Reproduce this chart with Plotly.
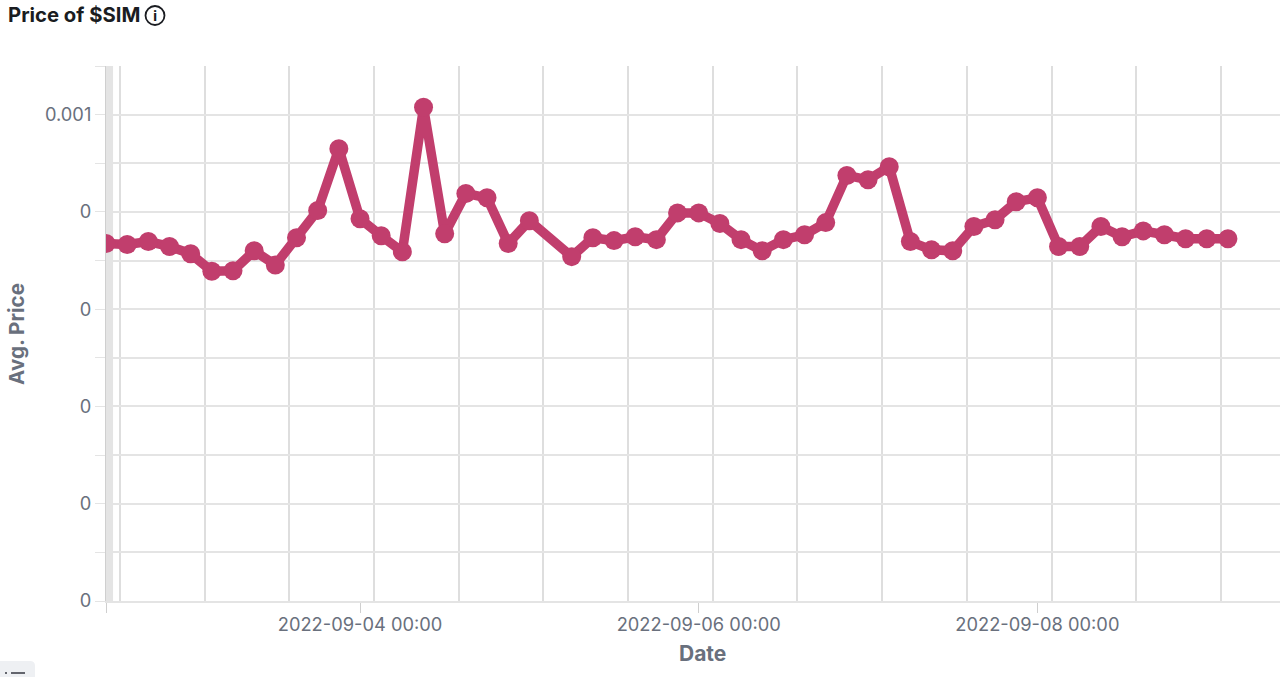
import plotly.graph_objects as go

dates = ["2022-09-02 12:00","2022-09-02 15:00","2022-09-02 18:00","2022-09-02 21:00",
"2022-09-03 00:00","2022-09-03 03:00","2022-09-03 06:00","2022-09-03 09:00","2022-09-03 12:00","2022-09-03 15:00","2022-09-03 18:00","2022-09-03 21:00",
"2022-09-04 00:00","2022-09-04 03:00","2022-09-04 06:00","2022-09-04 09:00","2022-09-04 12:00","2022-09-04 15:00","2022-09-04 18:00","2022-09-04 21:00",
"2022-09-05 00:00","2022-09-05 06:00","2022-09-05 09:00","2022-09-05 12:00","2022-09-05 15:00","2022-09-05 18:00","2022-09-05 21:00",
"2022-09-06 00:00","2022-09-06 03:00","2022-09-06 06:00","2022-09-06 09:00","2022-09-06 12:00","2022-09-06 15:00","2022-09-06 18:00","2022-09-06 21:00",
"2022-09-07 00:00","2022-09-07 03:00","2022-09-07 06:00","2022-09-07 09:00","2022-09-07 12:00","2022-09-07 15:00","2022-09-07 18:00","2022-09-07 21:00",
"2022-09-08 00:00","2022-09-08 03:00","2022-09-08 06:00","2022-09-08 09:00","2022-09-08 12:00","2022-09-08 15:00","2022-09-08 18:00","2022-09-08 21:00",
"2022-09-09 00:00","2022-09-09 03:00"]
prices = [0.000735,0.000733,0.000739,0.000729,0.000714,0.000678,0.000679,0.000720,0.000691,0.000747,0.000803,0.000930,
0.000786,0.000751,0.000718,0.001015,0.000755,0.000838,0.000829,0.000735,0.000782,
0.000708,0.000747,0.000741,0.000749,0.000743,0.000798,0.000798,0.000776,0.000743,0.000720,0.000743,0.000753,0.000778,
0.000875,0.000866,0.000893,0.000739,0.000722,0.000720,0.000770,0.000784,0.000821,0.000829,0.000729,0.000729,
0.000770,0.000749,0.000761,0.000753,0.000745,0.000745,0.000745]

x_ticks = ["2022-09-02 12:00","2022-09-04 00:00","2022-09-06 00:00","2022-09-08 00:00"]
x_labels = ["","2022-09-04 00:00","2022-09-06 00:00","2022-09-08 00:00"]
y_ticks = [0,0.0002,0.0004,0.0006,0.0008,0.001]
y_labels = ["0","0","0","0","0","0.001"]
x_range = ["2022-09-02 12:00","2022-09-09 10:23"]
y_range = [0,0.0011]
band = ["2022-09-02 12:00","2022-09-02 13:00"]

LINE = "#C13E6D"
GRID = "#E4E4E4"
VGRID = "#DEDEDE"
TXT = "#69707D"
FONT = "Inter"

fig = go.Figure()
fig.add_shape(type="rect", xref="x", yref="paper", x0=band[0], x1=band[1], y0=0, y1=1,
              fillcolor="#E4E4E4", line_width=0, layer="below")
fig.add_trace(go.Scatter(x=dates, y=prices, mode="lines+markers",
                         line=dict(color=LINE, width=9.5),
                         marker=dict(color=LINE, size=19), hoverinfo="x+y"))

fig.update_layout(
    width=1280, height=677, margin=dict(l=106, r=0, t=66, b=76),
    paper_bgcolor="white", plot_bgcolor="white", showlegend=False,
    font=dict(family=FONT, color=TXT, size=16),
    xaxis=dict(type="date", range=x_range, tickmode="array", tickvals=x_ticks, ticktext=x_labels,
               showgrid=False, ticks="outside", ticklen=10, tickwidth=1, tickcolor="#CFCFCF",
               showline=True, linecolor=GRID, linewidth=2, zeroline=False, ticklabelstandoff=-4,
               tickfont=dict(family=FONT, size=18.3, color=TXT),
               minor=dict(tickmode="linear", tick0="2022-09-02 14:00", dtick=43200000,
                          showgrid=True, gridcolor=VGRID, gridwidth=1.5, ticks="")),
    yaxis=dict(range=y_range, tickmode="array", tickvals=y_ticks, ticktext=y_labels,
               showgrid=True, gridcolor=GRID, gridwidth=1.5, ticks="outside", ticklen=10, tickwidth=1,
               tickcolor=GRID, showline=True, linecolor="#CFCFCF", linewidth=1, zeroline=False,
               tickfont=dict(family=FONT, size=18.3, color=TXT),
               minor=dict(tickmode="linear", tick0=0, dtick=0.0001, showgrid=True, gridcolor=GRID,
                          gridwidth=1.5, ticks="outside", ticklen=10, tickcolor=GRID)),
)

PH, PW = 535, 1174
def px(x): return (x - 106) / PW
def py(y): return (601 - y) / PH

fig.layout.annotations = [
    dict(xref="paper", yref="paper", x=px(6), y=py(15), xanchor="left", yanchor="middle",
         text="<b>Price of $SIM</b>", showarrow=False,
         font=dict(family=FONT, size=20.3, color="#1A1C21")),
    dict(xref="paper", yref="paper", x=px(155), y=py(15.5), xanchor="center", yanchor="middle",
         text="<b>i</b>", showarrow=False, font=dict(family="Noto Sans", size=14, color="#1A1C21")),
    dict(xref="paper", yref="paper", x=px(702.5), y=py(653), xanchor="center", yanchor="middle",
         text="<b>Date</b>", showarrow=False, font=dict(family=FONT, size=21, color=TXT)),
    dict(xref="paper", yref="paper", x=px(16), y=py(334), xanchor="center", yanchor="middle", textangle=-90,
         text="<b>Avg. Price</b>", showarrow=False, font=dict(family=FONT, size=20.6, color=TXT)),
]
fig.add_shape(type="circle", xref="paper", yref="paper", x0=px(145.5), x1=px(164.5), y0=py(25), y1=py(6),
              line=dict(color="#1A1C21", width=1.8), fillcolor="rgba(0,0,0,0)", layer="above")
fig.add_shape(type="path", xref="paper", yref="paper",
              path=f"M {px(0)} {py(677)} L {px(0)} {py(661)} L {px(30)} {py(661)} Q {px(35)} {py(661)} {px(35)} {py(666)} L {px(35)} {py(677)} Z",
              fillcolor="#EEF0F3", line_width=0, layer="above")
for a, b in ((5, 7), (11, 25)):
    fig.add_shape(type="line", xref="paper", yref="paper", x0=px(a), x1=px(b), y0=py(673), y1=py(673),
                  line=dict(color="#343741", width=1.5), layer="above")

fig.write_html("out.html", config=dict(displayModeBar=False),
               post_script="document.body.style.margin='0';document.body.style.overflow='hidden';")
